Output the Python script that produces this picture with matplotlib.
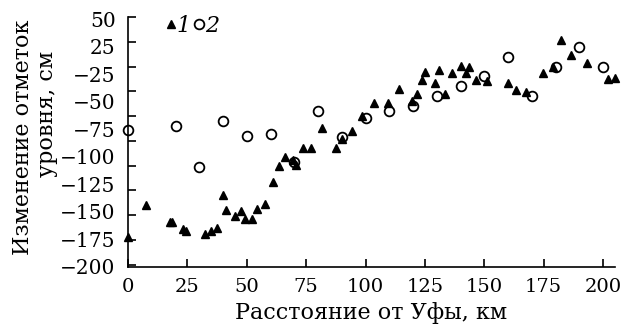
import matplotlib.pyplot as plt
import numpy as np

plt.rcParams['font.family'] = ['DejaVu Serif']

# series 1 (triangles)
dist_1 = [0, 7.4, 17.5, 18.5, 23.1, 24.5, 32.5, 35.1, 37.5, 40.0, 41.1, 45.2,
          47.6, 49.4, 52.1, 54.5, 57.6, 61.1, 63.6, 66.0, 69.5, 70.6, 73.7,
          77.0, 81.8, 87.5, 90.0, 94.2, 98.7, 103.6, 109.4, 114.1, 119.5,
          121.5, 123.6, 125.2, 129.2, 130.8, 133.6, 136.2, 140.4, 142.4,
          143.5, 146.4, 151.3, 160.1, 163.4, 167.6, 174.7, 178.8, 182.5,
          186.5, 193.1, 201.9, 205.1]
level_1 = [-172, -140, -157, -157, -164, -166, -169, -166, -163, -130, -145,
           -151, -146, -154, -154, -144, -139, -117, -100, -91, -94, -99, -82,
           -82, -62, -82, -73, -65, -50, -37, -37, -23, -35, -28, -14, -6,
           -17, -4, -28, -7, 1, -7, -1, -14, -15, -17, -24, -26, -7, -1, 27,
           12, 4, -13, -11.5]

# series 2 (circles)
dist_2 = [0, 20, 30, 40, 50, 60, 70, 80, 90, 100, 110, 120, 130, 140, 150,
          160, 170, 180, 190, 200]
level_2 = [-64, -60, -102, -55, -70, -68, -96, -45, -71, -52, -45, -40, -30,
           -20, -10, 10, -30, 0, 20, 0]

x_ticks = [0, 25, 50, 75, 100, 125, 150, 175, 200]
y_ticks = [50, 25, 0, -25, -50, -75, -100, -125, -150, -175, -200]
y_tick_labels = ['50', '25', '\u221225', '\u221250', '\u221275', '\u2212100',
                 '\u2212125', '\u2212150', '\u2212175', '\u2212200']

fig = plt.figure(figsize=(6.23, 3.24), dpi=100)
ax = fig.add_axes([0.2055, 0.176, 0.7815, 0.7715])

ax.plot(dist_1, level_1, '^', color='black', ms=5.5, clip_on=False, label='1')
ax.plot(dist_2, level_2, 'o', mfc='none', mec='black', mew=1.3, ms=7,
        clip_on=False, label='2')

ax.set_xlim(0, 205)
ax.set_ylim(-200, 50)
for s in ['top', 'right']:
    ax.spines[s].set_visible(False)
for s in ['left', 'bottom']:
    ax.spines[s].set_linewidth(1.2)

ax.set_xticks(x_ticks)
ax.set_xticklabels([str(v) for v in x_ticks])
ax.tick_params(axis='x', direction='in', length=6, width=1.2, labelsize=14, pad=8)

# tick marks every 25, labels spread evenly (as printed in the source)
ax.set_yticks(y_ticks)
ax.set_yticklabels([])
ax.tick_params(axis='y', which='major', direction='in', length=6, width=1.2)
ax.set_yticks(np.linspace(50, -200, len(y_tick_labels)) - 2.5, minor=True)
ax.set_yticklabels(y_tick_labels, minor=True)
ax.tick_params(axis='y', which='minor', length=0, labelsize=14.5, pad=9)

ax.set_xlabel('Расстояние от Уфы, км', fontsize=16, labelpad=4)
# y label: two lines, placed as in the source
ax.text(-0.2156, 0.52, 'Изменение отметок', transform=ax.transAxes,
        rotation=90, ha='center', va='center', fontsize=16)
ax.text(-0.1663, 0.612, 'уровня, см', transform=ax.transAxes,
        rotation=90, ha='center', va='center', fontsize=16)

ax.legend(loc='upper left', bbox_to_anchor=(0.06, 1.045), ncol=2, frameon=False,
          handlelength=0.4, handletextpad=0.05, columnspacing=0.2,
          borderaxespad=0, prop={'style': 'italic', 'size': 16})

fig.savefig('out.png', dpi=100)
